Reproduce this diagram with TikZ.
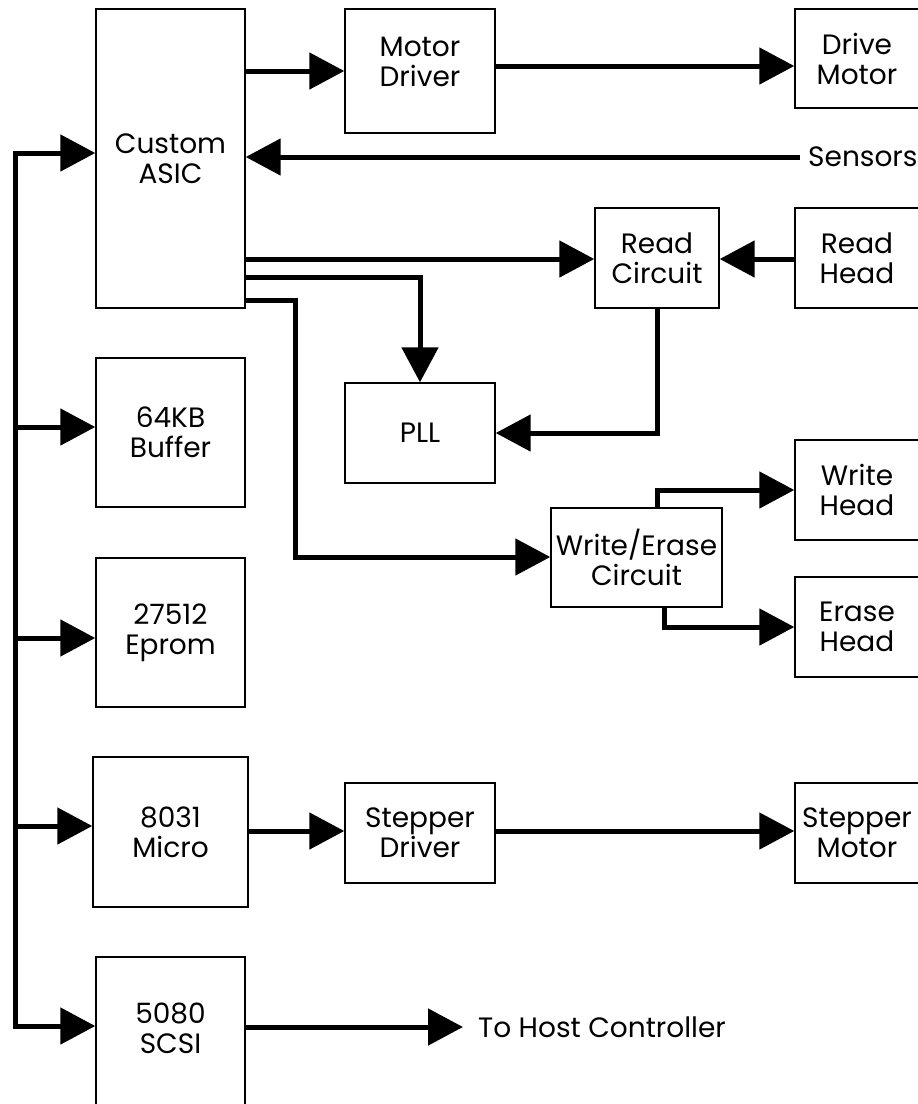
\documentclass[tikz,border=0pt]{standalone}
\usepackage{fontspec}
\setmainfont{Poppins}
\usetikzlibrary{arrows.meta}
\newcommand{\blkfont}{\fontsize{28}{30}\selectfont}
\begin{document}
\begin{tikzpicture}[x=1pt,y=-1pt,
  blk/.style={draw, line width=1.4pt, align=center, font=\blkfont, inner sep=0pt},
  conn/.style={line width=5pt, -{Triangle[length=35pt,width=36pt]}},
  bare/.style={line width=5pt},
  lbl/.style={font=\blkfont, inner sep=0pt, align=center}]
\clip (0,0) rectangle (918,1104);
\fill[white] (0,0) rectangle (918,1104);
% boxes
\node[blk, minimum width=149pt, minimum height=299pt] (asic) at (170.5,158.5) {Custom\\ASIC};
\node[blk, minimum width=150pt, minimum height=124pt,
  label={[lbl, yshift=9pt]center:{Motor\\Driver}}] (motordrv) at (420,71) {};
\node[blk, minimum width=124pt, minimum height=99pt] (drivemotor) at (857,58.5) {Drive\\Motor};
\node[lbl, anchor=west] (sensors) at (808,157) {Sensors};
\node[blk, minimum width=124pt, minimum height=100pt] (readcirc) at (657,258) {Read\\Circuit};
\node[blk, minimum width=124pt, minimum height=100pt] (readhead) at (857,258) {Read\\Head};
\node[blk, minimum width=150pt, minimum height=100pt] (pll) at (420,433) {PLL};
\node[blk, minimum width=149pt, minimum height=149pt] (buffer) at (170.5,432.5) {64KB\\Buffer};
\node[blk, minimum width=124pt, minimum height=100pt] (writehead) at (857,490) {Write\\Head};
\node[blk, minimum width=171pt, minimum height=99pt] (wec) at (636.5,557.5) {Write/Erase\\Circuit};
\node[blk, minimum width=124pt, minimum height=100pt] (erasehead) at (857,627) {Erase\\Head};
\node[blk, minimum width=149pt, minimum height=149pt] (eprom) at (170.5,632.5) {27512\\Eprom};
\node[blk, minimum width=155pt, minimum height=150pt] (micro) at (170.5,832) {8031\\Micro};
\node[blk, minimum width=150pt, minimum height=100pt] (stepdrv) at (420,833) {Stepper\\Driver};
\node[blk, minimum width=124pt, minimum height=100pt] (stepmotor) at (857,833) {Stepper\\Motor};
\node[blk, minimum width=149pt, minimum height=150pt,
  label={[lbl, yshift=4pt]center:{5080\\SCSI}}] (scsi) at (170.5,1032) {};
\node[lbl, anchor=west] (host) at (478,1027) {To Host Controller};
% bus
\coordinate (b1) at (15,153);
\coordinate (b2) at (15,427);
\coordinate (b3) at (15,638);
\coordinate (b4) at (15,826);
\coordinate (b5) at (15,1026);
\draw[bare, line cap=rect] (b1) -- (b5);
\draw[conn] (b1) -- (asic.west |- b1);
\draw[conn] (b2) -- (buffer.west |- b2);
\draw[conn] (b3) -- (eprom.west |- b3);
\draw[conn] (b4) -- (micro.west |- b4);
\draw[conn] (b5) -- (scsi.west |- b5);
% top row
\coordinate (m1) at (245,71);
\draw[conn] (m1) -- (motordrv.west |- m1);
\coordinate (m2) at (495,66);
\draw[conn] (m2) -- (drivemotor.west |- m2);
\draw[conn] (sensors.west) ++(-8,0) -- (asic.east |- sensors.west);
% read path
\coordinate (r1) at (245,259);
\draw[conn] (r1) -- (readcirc.west |- r1);
\draw[conn] (readhead.west |- r1) -- (readcirc.east |- r1);
\coordinate (p1) at (245,277);
\draw[conn] (p1) -| (pll.north);
\draw[conn] (readcirc.south) |- (pll.east);
% write path
\coordinate (w1) at (245,300);
\coordinate (w2) at (295,557);
\draw[conn] (w1) -| (w2) -- (wec.west |- w2);
\coordinate (w3) at (657,490);
\draw[conn] (wec.north -| w3) |- (writehead.west);
\coordinate (w4) at (664,627);
\draw[conn] (wec.south -| w4) |- (erasehead.west);
% stepper
\coordinate (s1) at (248,831);
\draw[conn] (s1) -- (stepdrv.west |- s1);
\coordinate (s2) at (495,831);
\draw[conn] (s2) -- (stepmotor.west |- s2);
% host
\coordinate (h1) at (245,1027);
\draw[conn] (h1) -- (463,1027) coordinate (h2);
\end{tikzpicture}
\end{document}
